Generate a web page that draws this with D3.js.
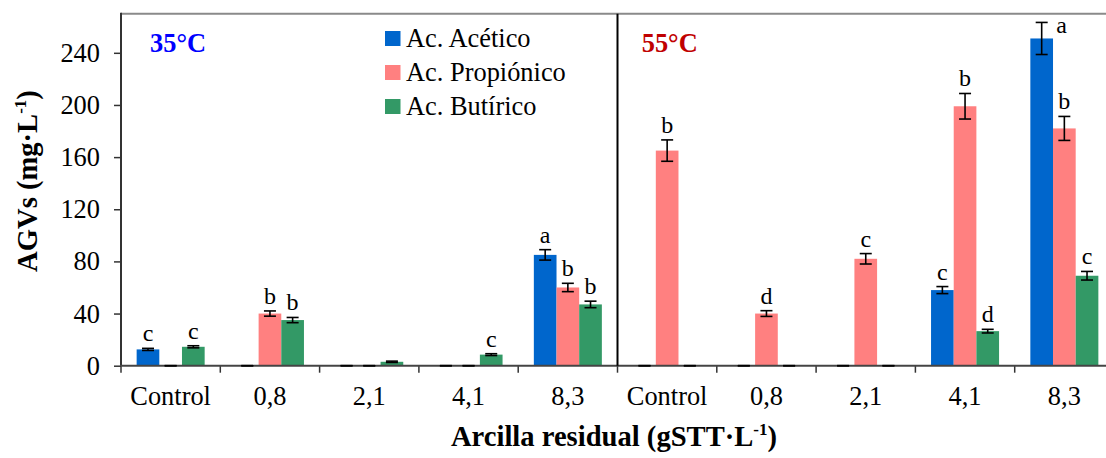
<!DOCTYPE html>
<html>
<head>
<meta charset="utf-8">
<script src="https://cdn.jsdelivr.net/npm/d3@7"></script>
<style>
  html, body { margin: 0; padding: 0; background: #fff; }
  svg { display: block; font-family: "Liberation Serif", "Times New Roman", serif; }
</style>
</head>
<body>
<svg id="chart" width="1106" height="458"></svg>
<script>
// Categories (residual clay dose) repeated for each temperature panel
const categories = ["Control", "0,8", "2,1", "4,1", "8,3"];
const temps = ["35°C", "55°C"];
const seriesNames = ["Ac. Acético", "Ac. Propiónico", "Ac. Butírico"];
const yTicks = [0, 40, 80, 120, 160, 200, 240];

// VFA concentrations (mg·L-1): first five = 35°C, last five = 55°C
const acetico    = [12.5, 0, 0, 0, 85,   0, 0, 0, 58, 251];
const propionico = [0, 40, 0, 0, 60,     165, 40, 82, 199, 182];
const butirico   = [14.5, 35, 3, 8.5, 47, 0, 0, 0, 26.5, 69];

// Standard deviations
const aceticoErr    = [0.8, 0, 0, 0, 4,     0, 0, 0, 2.7, 12.3];
const propionicoErr = [0, 2, 0, 0, 3.2,     8.2, 2.2, 4, 9.8, 9.2];
const butiricoErr   = [0.8, 2, 0.5, 0.7, 2.5, 0, 0, 0, 1.4, 3.3];

// Significance letters
const aceticoLetters    = ["c", "", "", "", "a",  "", "", "", "c", "a"];
const propionicoLetters = ["", "b", "", "", "b",  "b", "d", "c", "b", "b"];
const butiricoLetters   = ["c", "b", "", "c", "b", "", "", "", "d", "c"];

const colors = ["#0066CC", "#FF8080", "#339966"];

const series = [
  { name: seriesNames[0], values: acetico, err: aceticoErr, letters: aceticoLetters },
  { name: seriesNames[1], values: propionico, err: propionicoErr, letters: propionicoLetters },
  { name: seriesNames[2], values: butirico, err: butiricoErr, letters: butiricoLetters }
];

const svg = d3.select("#chart");
const plot = { left: 121, right: 1114, top: 13.7, bottom: 365.7 };

const nCat = categories.length * temps.length;
const x = d3.scaleBand()
  .domain(d3.range(nCat))
  .range([plot.left, plot.right])
  .paddingInner(0).paddingOuter(0);

const xs = d3.scaleBand()
  .domain(d3.range(series.length))
  .range([0, x.bandwidth()])
  .paddingInner(0)
  .paddingOuter(0.69);

const y = d3.scaleLinear().domain([0, 270]).range([plot.bottom, plot.top]);

// Bars
series.forEach((s, si) => {
  svg.append("g").selectAll("rect")
    .data(s.values.map((v, i) => ({ v, i })))
    .join("rect")
    .attr("x", d => x(d.i) + xs(si))
    .attr("y", d => y(d.v))
    .attr("width", xs.bandwidth())
    .attr("height", d => y(0) - y(d.v))
    .attr("fill", colors[si]);
});

// Y axis
const yAxis = svg.append("g")
  .attr("transform", `translate(${plot.left},0)`)
  .call(d3.axisLeft(y).tickValues(yTicks).tickSize(7).tickPadding(14).tickSizeOuter(0));
yAxis.select(".domain").remove();
yAxis.selectAll(".tick line").attr("stroke", "#333").attr("stroke-width", 1.5);
yAxis.selectAll(".tick text")
  .attr("font-size", 26.4).attr("fill", "#000")
  .attr("font-family", "Liberation Serif");

// X axis ticks at category boundaries
const bounds = d3.range(nCat + 1).map(i => plot.left + i * x.step());
svg.append("g").selectAll("line")
  .data(bounds)
  .join("line")
  .attr("x1", d => d).attr("x2", d => d)
  .attr("y1", plot.bottom).attr("y2", plot.bottom + 7)
  .attr("stroke", "#333").attr("stroke-width", 1.5);

// X tick labels
svg.append("g").selectAll("text")
  .data(d3.range(nCat))
  .join("text")
  .attr("x", i => x(i) + x.bandwidth() / 2)
  .attr("y", 405)
  .attr("text-anchor", "middle")
  .attr("font-size", 26.4)
  .text(i => categories[i % categories.length]);

// Frame lines
svg.append("line")
  .attr("x1", plot.left).attr("x2", 1106)
  .attr("y1", plot.top).attr("y2", plot.top)
  .attr("stroke", "#8a8a8a").attr("stroke-width", 2);
svg.append("line")
  .attr("x1", plot.left).attr("x2", plot.left)
  .attr("y1", plot.top - 1).attr("y2", plot.bottom)
  .attr("stroke", "#333").attr("stroke-width", 2);
svg.append("line")
  .attr("x1", plot.left).attr("x2", 1106)
  .attr("y1", plot.bottom).attr("y2", plot.bottom)
  .attr("stroke", "#444").attr("stroke-width", 2);
// Divider between temperature panels
const divX = x(categories.length);
svg.append("line")
  .attr("x1", divX).attr("x2", divX)
  .attr("y1", plot.top).attr("y2", plot.bottom)
  .attr("stroke", "#000").attr("stroke-width", 2);

// Error bars and letters
const capW = 12;
series.forEach((s, si) => {
  const g = svg.append("g").attr("stroke", "#000").attr("stroke-width", 1.6);
  s.values.forEach((v, i) => {
    const cx = x(i) + xs(si) + xs.bandwidth() / 2;
    const e = s.err[i];
    const yHi = y(v + e), yLo = y(v - e);
    if (e > 0) {
      g.append("line").attr("x1", cx).attr("x2", cx).attr("y1", yHi).attr("y2", yLo);
    }
    g.append("line").attr("x1", cx - capW / 2).attr("x2", cx + capW / 2).attr("y1", yHi).attr("y2", yHi);
    g.append("line").attr("x1", cx - capW / 2).attr("x2", cx + capW / 2).attr("y1", yLo).attr("y2", yLo);

    const letter = s.letters[i];
    if (letter) {
      let lx = cx, ly = yHi - 7;
      if (ly - 17 < plot.top) { lx = cx + 20; ly = yHi + 11; }
      svg.append("text")
        .attr("x", lx).attr("y", ly)
        .attr("text-anchor", "middle")
        .attr("font-size", 24)
        .text(letter);
    }
  });
});

// Panel titles
svg.append("text").attr("x", 150).attr("y", 51.7)
  .attr("font-size", 26.4).attr("font-weight", "bold").attr("fill", "#0000FF")
  .text(temps[0]);
svg.append("text").attr("x", 641.7).attr("y", 51.7)
  .attr("font-size", 26.4).attr("font-weight", "bold").attr("fill", "#C00000")
  .text(temps[1]);

// Legend
const legend = svg.append("g").attr("transform", "translate(385,31)");
seriesNames.forEach((name, i) => {
  const row = legend.append("g").attr("transform", `translate(0,${i * 34})`);
  row.append("rect").attr("width", 15.5).attr("height", 15).attr("fill", colors[i]);
  row.append("text").attr("x", 21).attr("y", 15.5)
    .attr("font-size", 26.4).text(name);
});

// Axis titles
const yTitle = svg.append("text")
  .attr("transform", "translate(37,181) rotate(-90)")
  .attr("text-anchor", "middle")
  .attr("font-size", 28.6).attr("font-weight", "bold");
yTitle.append("tspan").text("AGVs (mg·L");
yTitle.append("tspan").attr("font-size", 17).attr("dy", -11).text("-1");
yTitle.append("tspan").attr("dy", 11).text(")");

const xTitle = svg.append("text")
  .attr("x", 614).attr("y", 446)
  .attr("text-anchor", "middle")
  .attr("font-size", 28.6).attr("font-weight", "bold");
xTitle.append("tspan").text("Arcilla residual (gSTT·L");
xTitle.append("tspan").attr("font-size", 17).attr("dy", -11).text("-1");
xTitle.append("tspan").attr("dy", 11).text(")");
</script>
</body>
</html>
